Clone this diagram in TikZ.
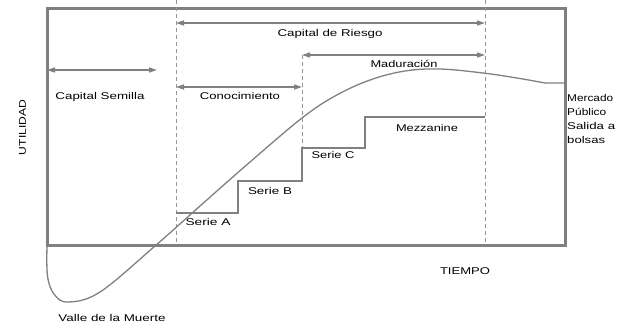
\documentclass[tikz,border=0pt]{standalone}
\usepackage{fontspec}
\setmainfont{Liberation Sans}
\usepackage{graphicx}
\usetikzlibrary{arrows.meta}
\newcommand\fitw[2]{\resizebox{#1pt}{\height}{#2}}
\definecolor{lgray}{RGB}{128,128,128}
\definecolor{dgray}{RGB}{150,150,150}
\tikzset{
  frame/.style={draw=lgray,line width=3pt},
  span/.style={draw=lgray,line width=1.5pt,{Triangle[length=8pt,width=5pt]}-{Triangle[length=8pt,width=5pt]}},
  guide/.style={draw=dgray,line width=0.8pt,dash pattern=on 4pt off 3pt},
  stair/.style={draw=lgray,line width=1.8pt},
  curve/.style={draw=lgray,line width=1.3pt},
  lbl/.style={inner sep=0pt,anchor=base,font=\fontsize{9.8}{12}\selectfont},
  lblw/.style={lbl,anchor=base west}
}
\begin{document}
\begin{tikzpicture}[x=1pt,y=-1pt]
\useasboundingbox (0,0) rectangle (629,325);
% frame
\coordinate (tl) at (47,8);
\coordinate (br) at (565,245);
\draw[frame] (tl) rectangle (br);
% guides
\coordinate (g1t) at (176,0); \coordinate (g1b) at (176,245);
\coordinate (g2t) at (485,0); \coordinate (g2b) at (485,245);
\coordinate (g3t) at (302,55); \coordinate (g3b) at (302,148);
\draw[guide] (g1t) -- (g1b);
\draw[guide] (g2t) -- (g2b);
\draw[guide] (g3t) -- (g3b);
% spans
\coordinate (r1) at (176,23); \coordinate (r2) at (485,23);
\coordinate (m1) at (302,55); \coordinate (m2) at (485,55);
\coordinate (s1) at (47,70); \coordinate (s2) at (157,70);
\coordinate (c1) at (176,87); \coordinate (c2) at (302,87);
\draw[span] (r1) -- (r2);
\draw[span] (m1) -- (m2);
\draw[span] (s1) -- (s2);
\draw[span] (c1) -- (c2);
% stairs
\coordinate (a0) at (176,213);
\coordinate (a1) at (238,213);
\coordinate (b0) at (238,181);
\coordinate (b1) at (302,181);
\coordinate (c0) at (302,148);
\coordinate (cc1) at (365,148);
\coordinate (d0) at (365,117);
\coordinate (d1) at (485,117);
\draw[stair] (a0) -- (a1) -- (b0) -- (b1) -- (c0) -- (cc1) -- (d0) -- (d1);
% curve
\coordinate (ce) at (565,83);
\draw[curve] plot[smooth,tension=0.6] coordinates {(47,246) (47.5,276) (54,294) (68,302) (100,292) (155,246) (200,206) (250,162) (302,118) (335,96) (370,80) (405,71) (440,69) (483,73) (517,78) (545,83)} -- (ce);
% labels
\node[lbl] (lr) at (330,36) {\fitw{105}{Capital de Riesgo}};
\node[lbl] (lm) at (404,67) {\fitw{67}{Maduración}};
\node[lbl] (ls) at (100,99) {\fitw{89}{Capital Semilla}};
\node[lbl] (lc) at (240,99) {\fitw{80}{Conocimiento}};
\node[lbl] (lz) at (427,131) {\fitw{62}{Mezzanine}};
\node[lbl] (lsc) at (333,158) {\fitw{43}{Serie C}};
\node[lbl] (lsb) at (270,194) {\fitw{44}{Serie B}};
\node[lbl] (lsa) at (208,225) {\fitw{45}{Serie A}};
\node[lblw] (mk1) at (567,101) {\fitw{46}{Mercado}};
\node[lblw] (mk2) at (567,115.5) {\fitw{39}{Público}};
\node[lblw] (mk3) at (567,129.5) {\fitw{48}{Salida a}};
\node[lblw] (mk4) at (567,143.5) {\fitw{38}{bolsas}};
\node[lbl] (lt) at (465,274) {\fitw{50}{TIEMPO}};
\node[lbl] (lv) at (112,321) {\fitw{107}{Valle de la Muerte}};
\node[lbl,rotate=90] (lu) at (26,127.5) {\fitw{55}{UTILIDAD}};
\end{tikzpicture}
\end{document}
